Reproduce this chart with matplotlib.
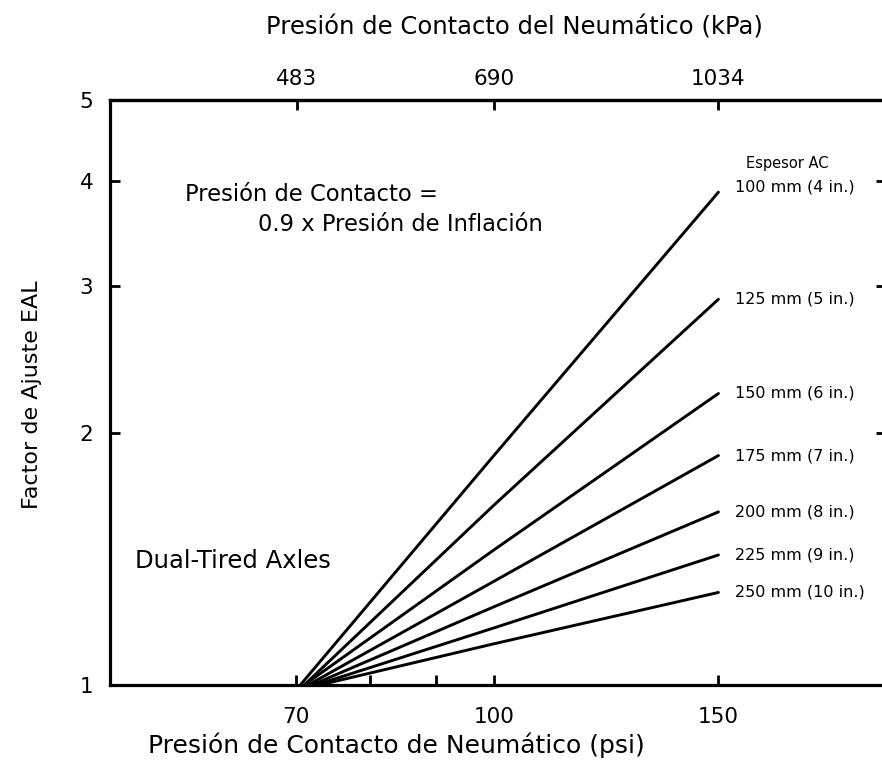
import matplotlib
matplotlib.use("Agg")
import matplotlib.pyplot as plt
from matplotlib.ticker import NullFormatter, FixedLocator

plt.rcParams['font.family'] = ['DejaVu Sans']

# datos (psi -> factor de ajuste EAL)
espesores = ['100 mm (4 in.)', '125 mm (5 in.)', '150 mm (6 in.)', '175 mm (7 in.)',
             '200 mm (8 in.)', '225 mm (9 in.)', '250 mm (10 in.)']
psi_inicio = [70.5, 71, 71, 71.5, 72, 72.5, 73]
factor_100 = [1.88, 1.64, 1.45, 1.33, 1.24, 1.17, 1.12]
factor_150 = [3.88, 2.89, 2.23, 1.88, 1.61, 1.43, 1.29]
psi_ticks = [70, 100, 150]
kpa_ticks = [483, 690, 1034]
y_ticks = [1, 2, 3, 4, 5]

fig = plt.figure(figsize=(8.82, 7.77), dpi=100)
ax = fig.add_axes([110 / 882, 92 / 777, 776 / 882, 585 / 777])

for i in range(len(espesores)):
    xs = [psi_inicio[i], 100, 150]
    ys = [1, factor_100[i], factor_150[i]]
    ax.plot(xs, ys, color='black', lw=2.1, solid_capstyle='round')
    dy = 1.015 if i == 0 else 1.0
    ax.text(154.5, factor_150[i] * dy, espesores[i], fontsize=11.5, va='center', ha='left')

ax.text(170, 4.2, 'Espesor AC', fontsize=10.5, ha='center', va='center')

ax.set_xscale('log')
ax.set_yscale('log')
ax.set_xlim(50, 203)
ax.set_ylim(1, 5)

ax.xaxis.set_major_locator(FixedLocator(psi_ticks))
ax.xaxis.set_minor_locator(FixedLocator([80, 90]))
ax.set_xticklabels([str(t) for t in psi_ticks])
ax.xaxis.set_minor_formatter(NullFormatter())
ax.yaxis.set_major_locator(FixedLocator(y_ticks))
ax.yaxis.set_minor_locator(FixedLocator([]))
ax.set_yticklabels([str(t) for t in y_ticks])
ax.yaxis.set_minor_formatter(NullFormatter())

ax.tick_params(axis='both', which='both', direction='in', length=7, width=2,
               labelsize=15.5, pad=16)
ax.tick_params(axis='y', right=True, pad=12)
for s in ax.spines.values():
    s.set_linewidth(2.3)

top = ax.secondary_xaxis('top', functions=(lambda p: p * 6.895, lambda k: k / 6.895))
top.xaxis.set_major_locator(FixedLocator(kpa_ticks))
top.xaxis.set_minor_locator(FixedLocator([]))
top.set_xticklabels([str(t) for t in kpa_ticks])
top.xaxis.set_minor_formatter(NullFormatter())
top.tick_params(axis='x', which='both', direction='in', length=7, width=2,
                labelsize=15.5, pad=8)
top.spines['top'].set_linewidth(2.3)

ax.text(57.3, 3.86, 'Presión de Contacto =', fontsize=16.3, ha='left', va='center')
ax.text(65.3, 3.55, '0.9 x Presión de Inflación', fontsize=16.3, ha='left', va='center')
ax.text(52.3, 1.405, 'Dual-Tired Axles', fontsize=17.5, ha='left', va='center')

fig.text(514 / 882, 1 - 27 / 777, 'Presión de Contacto del Neumático (kPa)',
         fontsize=17.5, ha='center', va='center')
fig.text(396 / 882, 1 - 745 / 777, 'Presión de Contacto de Neumático (psi)',
         fontsize=18, ha='center', va='center')
fig.text(32 / 882, 1 - 395 / 777, 'Factor de Ajuste EAL', fontsize=16,
         rotation=90, ha='center', va='center')

fig.savefig('out.png', dpi=100)
